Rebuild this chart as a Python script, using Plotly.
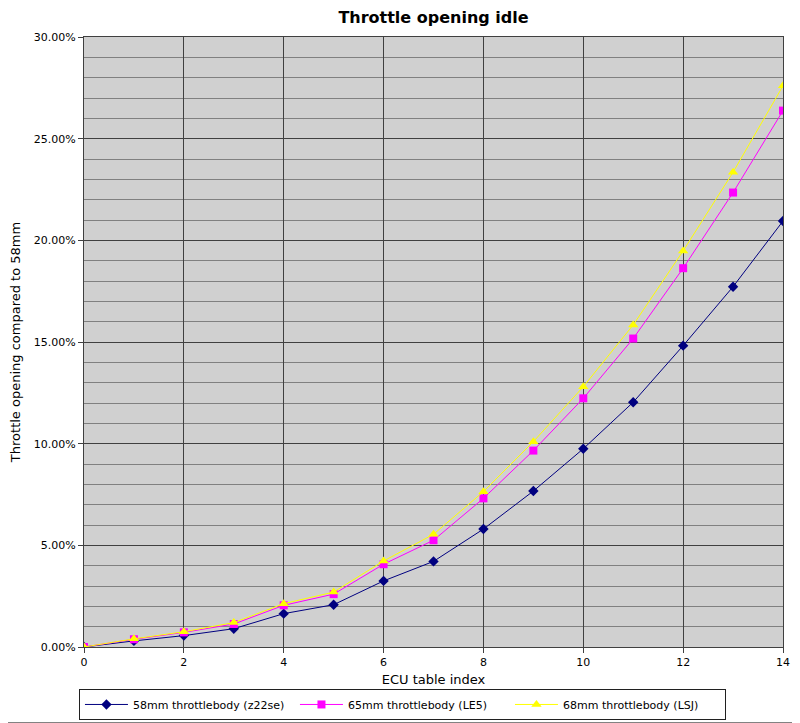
import plotly.graph_objects as go

idx = list(range(15))

tb_58 = [0.0, 0.30, 0.56, 0.90, 1.64, 2.08, 3.25, 4.21, 5.80, 7.67, 9.75, 12.04, 14.82, 17.72, 20.95]
tb_65 = [0.0, 0.38, 0.72, 1.13, 2.05, 2.60, 4.07, 5.25, 7.31, 9.66, 12.23, 15.17, 18.63, 22.35, 26.38]
tb_68 = [0.0, 0.40, 0.75, 1.20, 2.13, 2.70, 4.23, 5.54, 7.64, 10.10, 12.80, 15.84, 19.48, 23.35, 27.60]

names = ["58mm throttlebody (z22se)", "65mm throttlebody (LE5)", "68mm throttlebody (LSJ)"]

fig = go.Figure()
fig.add_trace(go.Scatter(x=idx, y=[v / 100 for v in tb_58], name=names[0], mode="lines+markers",
                         line=dict(color="#000080", width=1),
                         marker=dict(symbol="diamond", size=8, color="#000080")))
fig.add_trace(go.Scatter(x=idx, y=[v / 100 for v in tb_65], name=names[1], mode="lines+markers",
                         line=dict(color="#ff00ff", width=1),
                         marker=dict(symbol="square", size=8, color="#ff00ff")))
fig.add_trace(go.Scatter(x=idx, y=[v / 100 for v in tb_68], name=names[2], mode="lines+markers",
                         line=dict(color="#ffff00", width=1),
                         marker=dict(symbol="triangle-up", size=9, color="#ffff00")))

# grey frame on right and bottom edges of the picture (page has an 8px body margin)
fig.add_shape(type="line", xref="paper", yref="paper",
              x0=1.0229, x1=1.0229, y0=-0.1238, y1=1.1,
              line=dict(color="#808080", width=1))
fig.add_shape(type="line", xref="paper", yref="paper",
              x0=-0.2, x1=1.0229, y0=-0.1238, y1=-0.1238,
              line=dict(color="#808080", width=1))

fig.update_layout(
    width=792, height=715,
    margin=dict(l=76, r=17, t=29, b=76, autoexpand=False),
    paper_bgcolor="white",
    plot_bgcolor="#d0d0d0",
    font=dict(family="DejaVu Sans", size=11, color="black"),
    title=dict(text="<b>Throttle opening idle</b>", x=0.5, xanchor="center", xref="paper",
               yref="container", y=0.9874, yanchor="middle", font=dict(size=16)),
    showlegend=True,
    legend=dict(orientation="h", xref="container", yref="container",
                x=0.0896, y=0.0476, xanchor="left", yanchor="top",
                bordercolor="#202020", borderwidth=1, bgcolor="white",
                font=dict(size=11), itemwidth=43, entrywidth=157),
    xaxis=dict(range=[0, 14], dtick=2, tick0=0, automargin=False,
               showgrid=True, gridcolor="#404040", gridwidth=1,
               showline=True, linecolor="#404040", mirror=True,
               ticks="outside", ticklen=5, tickcolor="#404040",
               zeroline=False,
               title=dict(text="ECU table index", font=dict(size=13), standoff=6)),
    yaxis=dict(range=[0, 0.30], dtick=0.05, tick0=0, tickformat=".2%", automargin=False,
               showgrid=True, gridcolor="#404040", gridwidth=1,
               minor=dict(dtick=0.01, showgrid=True, gridcolor="#808080", gridwidth=1),
               showline=True, linecolor="#404040", mirror=True,
               ticks="outside", ticklen=5, tickcolor="#404040",
               zeroline=False,
               title=dict(text="Throttle opening compared to 58mm", font=dict(size=13), standoff=21)),
)

fig.write_html("out.html")
